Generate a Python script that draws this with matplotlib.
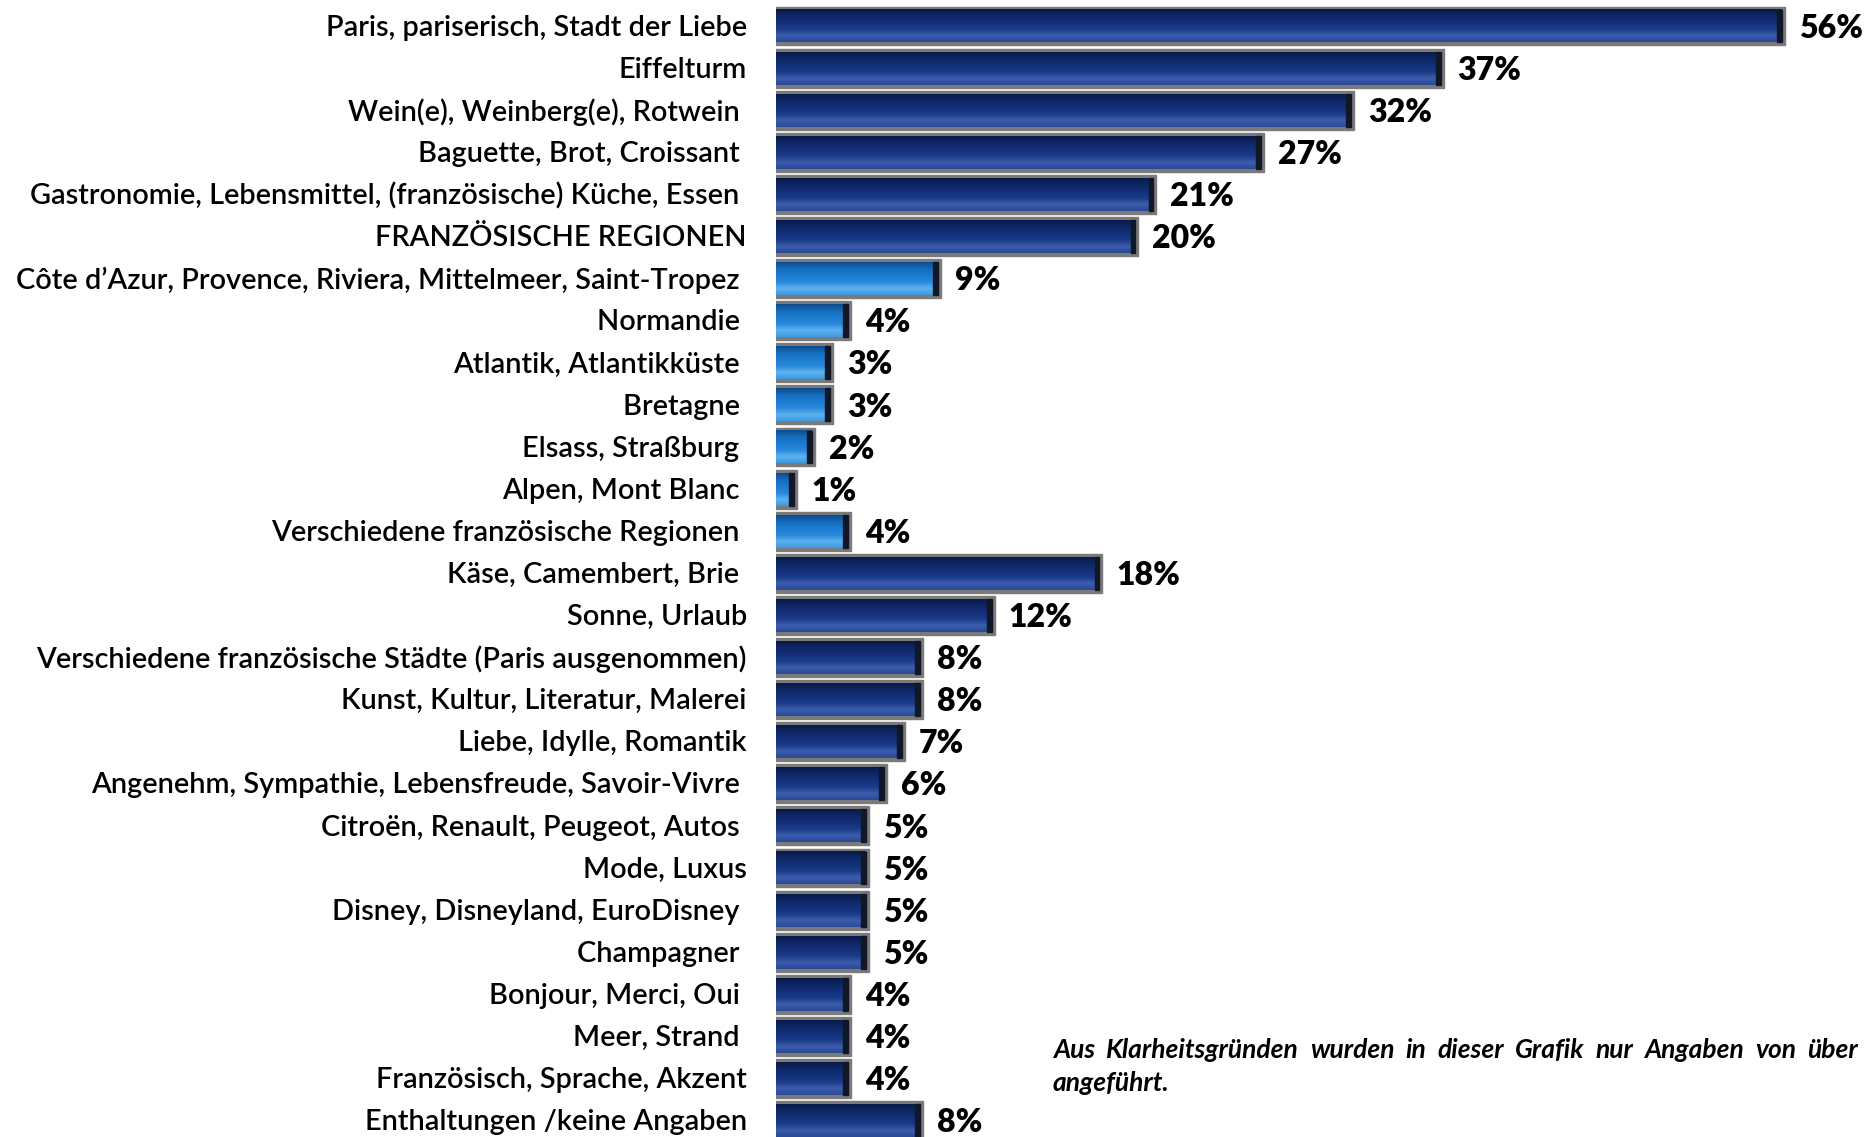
import matplotlib.pyplot as plt
import numpy as np
from matplotlib.patches import Rectangle
from matplotlib.colors import LinearSegmentedColormap

# Daten
kategorien = [
    "Paris, pariserisch, Stadt der Liebe",
    "Eiffelturm",
    "Wein(e), Weinberg(e), Rotwein ",
    "Baguette, Brot, Croissant ",
    "Gastronomie, Lebensmittel, (französische) Küche, Essen ",
    "FRANZÖSISCHE REGIONEN",
    "Côte d\u2019Azur, Provence, Riviera, Mittelmeer, Saint-Tropez ",
    "Normandie ",
    "Atlantik, Atlantikküste ",
    "Bretagne ",
    "Elsass, Straßburg ",
    "Alpen, Mont Blanc ",
    "Verschiedene französische Regionen ",
    "Käse, Camembert, Brie ",
    "Sonne, Urlaub",
    "Verschiedene französische Städte (Paris ausgenommen)",
    "Kunst, Kultur, Literatur, Malerei",
    "Liebe, Idylle, Romantik",
    "Angenehm, Sympathie, Lebensfreude, Savoir-Vivre ",
    "Citroën, Renault, Peugeot, Autos ",
    "Mode, Luxus",
    "Disney, Disneyland, EuroDisney ",
    "Champagner ",
    "Bonjour, Merci, Oui ",
    "Meer, Strand ",
    "Französisch, Sprache, Akzent",
    "Enthaltungen /keine Angaben",
]
werte = [56, 37, 32, 27, 21, 20, 9, 4, 3, 3, 2, 1, 4, 18, 12,
         8, 8, 7, 6, 5, 5, 5, 5, 4, 4, 4, 8]
# Unterkategorien der Regionen (hellblau)
regionen = [False] * 6 + [True] * 7 + [False] * 14

fussnote_1 = "Aus Klarheitsgründen wurden in dieser Grafik nur Angaben von über"
fussnote_2 = "angeführt."

plt.rcParams['font.family'] = ['Lato', 'DejaVu Sans']

W, H = 1868, 1137
fig = plt.figure(figsize=(W / 100, H / 100), dpi=100)
ax_left = 776 / W
ax = fig.add_axes([ax_left, 0, 1 - ax_left, 1])

px_x = 17.96   # pixel pro Prozent
px_y = 42.1    # pixel pro Zeile
ax.axis('off')

dunkel = LinearSegmentedColormap.from_list(
    'd', ['#0a1a48', '#0e2766', '#132f78', '#1b3a88', '#3c5dab', '#2a4a98'])
hell = LinearSegmentedColormap.from_list(
    'h', ['#0c4c8c', '#156cbc', '#1b7cd0', '#2888da', '#5cb2ee', '#3f9ae2'])

h = 0.78
dx = 3 / px_x
dy = 3 / px_y
grad = np.linspace(0, 1, 64).reshape(-1, 1)

for i, (lab, v, reg) in enumerate(zip(kategorien, werte, regionen)):
    # Schatten
    ax.add_patch(Rectangle((0, i - h / 2 - dy), v + dx, h + 2 * dy,
                           color='#7a7a7a', zorder=1))
    cmap = hell if reg else dunkel
    ax.imshow(grad, cmap=cmap, aspect='auto', origin='upper',
              extent=(0, v, i + h / 2, i - h / 2), zorder=2)
    # rechte Kante
    ax.add_patch(Rectangle((v - 0.25, i - h / 2), 0.25, h,
                           color='#101828', zorder=3))
    ax.text(v + 0.95, i + 0.05, f"{v}%", ha='left', va='center',
            fontsize=23, fontweight='heavy', color='black')
    ax.annotate(lab, xy=(0, i + 0.04), xytext=(-21, 0),
                textcoords='offset points', ha='right', va='center',
                fontsize=20.8, fontweight='semibold', color='black',
                annotation_clip=False)

ax.set_xlim(0, (W - 776) / px_x)
ax.set_ylim((H - 26) / px_y, -26 / px_y)

# Fussnote, Blocksatz (erste Zeile bis zum rechten Rand)
fn_kw = dict(fontsize=19, fontstyle='italic', fontweight='bold', va='center')
fig.canvas.draw()
r = fig.canvas.get_renderer()
woerter = fussnote_1.split(' ')
x0, x1 = 1053, 1858
objs = [fig.text(0, 1 - 1050 / H, w, ha='left', **fn_kw) for w in woerter]
breiten = [t.get_window_extent(r).width for t in objs]
luecke = (x1 - x0 - sum(breiten)) / (len(woerter) - 1)
x = x0
for t, b in zip(objs, breiten):
    t.set_x(x / W)
    x += b + luecke
fig.text(x0 / W, 1 - 1083 / H, fussnote_2, ha='left', **fn_kw)

fig.savefig('out.png', dpi=100)
